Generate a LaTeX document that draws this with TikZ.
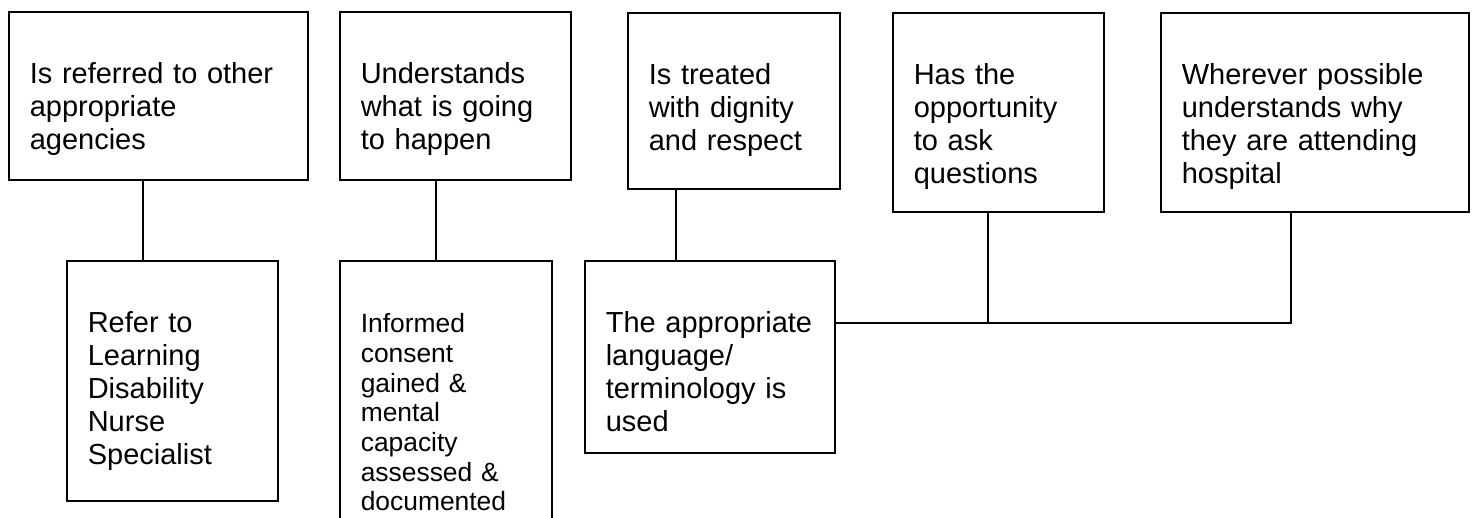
\documentclass[tikz,border=0pt]{standalone}
\usepackage{fontspec}
\setmainfont{Liberation Sans}

\begin{document}
\begin{tikzpicture}[x=0.5pt,y=-0.5pt,line width=0.8pt,
  box/.style={draw,anchor=north west,align=left,inner xsep=10.5pt,inner ysep=0pt,
    text height=36pt,font=\fontsize{14.5}{16.5}\selectfont},
  small/.style={font=\fontsize{13.2}{14.85}\selectfont}]
  \useasboundingbox (0,0) rectangle (1474,518);
  \clip (0,0) rectangle (1474,518);
  % top row
  \node[box,text width=128.5pt,text depth=48pt] (referred) at (8,11) {Is referred to other\\appropriate\\agencies};
  \node[box,text width=94.5pt,text depth=48pt] (understands) at (339,11) {Understands\\what is going\\to happen};
  \node[box,text width=85pt,text depth=52pt] (dignity) at (627,12) {Is treated\\with dignity\\and respect};
  \node[box,text width=84.5pt,text depth=63.5pt] (questions) at (892,12) {Has the\\opportunity\\to ask\\questions};
  \node[box,text width=133pt,text depth=63.5pt] (hospital) at (1160,12) {Wherever possible\\understands why\\they are attending\\hospital};
  % bottom row
  \node[box,text width=84.5pt,text depth=84pt] (nurse) at (66,260) {Refer to\\Learning\\Disability\\Nurse\\Specialist};
  \node[box,small,text width=85pt,text depth=104pt] (consent) at (339,260) {Informed\\consent\\gained \&\\mental\\capacity\\assessed \&\\documented};
  \node[box,text width=104pt,text depth=60pt] (language) at (584,260) {The appropriate\\language/\\terminology is\\used};
  % connectors
  \coordinate (drop1) at (143,0);
  \coordinate (drop2) at (436,0);
  \coordinate (drop3) at (676,0);
  \coordinate (drop4) at (988,0);
  \coordinate (bus) at (1291,323);
  \draw (drop1 |- referred.south) -- (drop1 |- nurse.north);
  \draw (drop2 |- understands.south) -- (drop2 |- consent.north);
  \draw (drop3 |- dignity.south) -- (drop3 |- language.north);
  \draw (drop4 |- questions.south) -- (drop4 |- bus);
  \draw (language.east |- bus) -| (bus |- hospital.south);
\end{tikzpicture}
\end{document}
